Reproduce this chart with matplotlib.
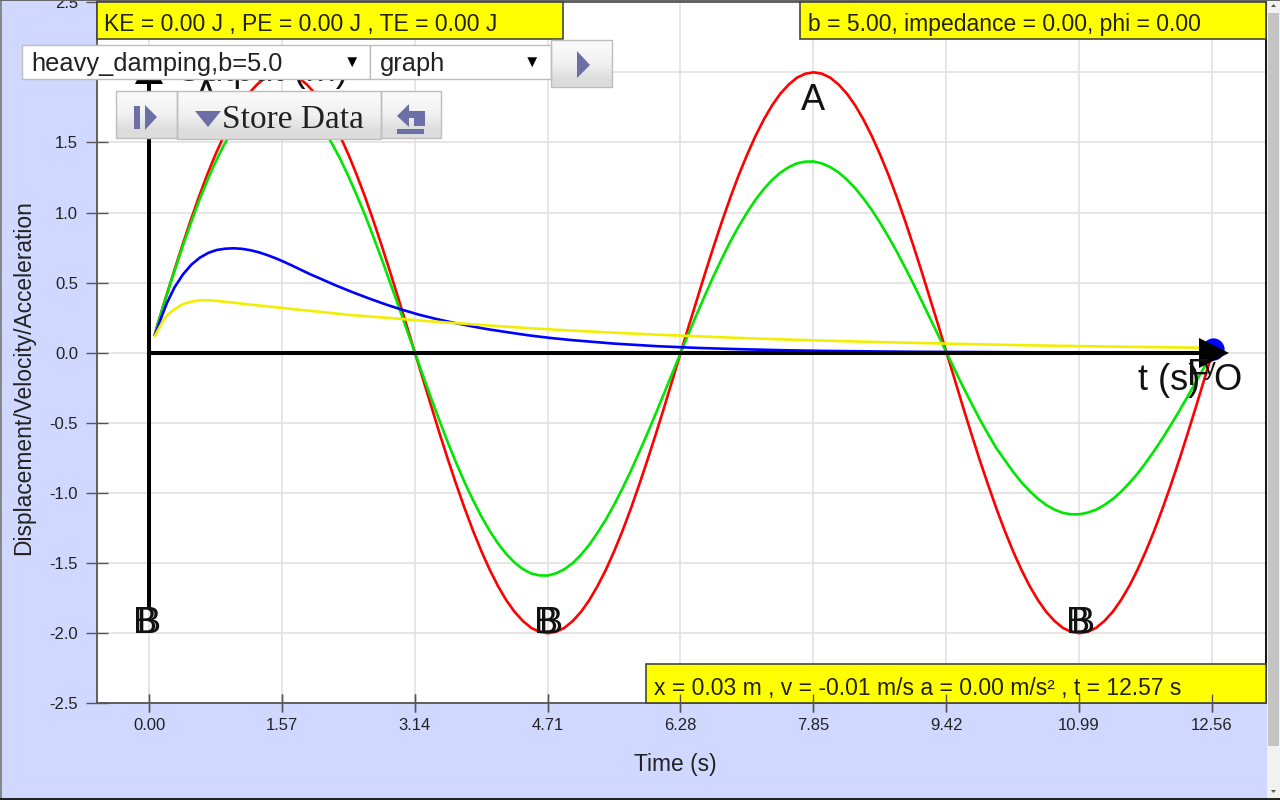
import matplotlib
matplotlib.use("Agg")
import matplotlib.pyplot as plt
import numpy as np
from matplotlib.patches import Polygon, Rectangle

plt.rcParams['font.family'] = ['Liberation Sans', 'DejaVu Sans']

# values
t = [0.07,
     0.098, 0.196, 0.295, 0.393, 0.491, 0.589, 0.687, 0.785, 0.884, 0.982, 1.080, 1.178, 1.276, 1.374, 1.473, 1.571,
     1.669, 1.767, 1.865, 1.963, 2.062, 2.160, 2.258, 2.356, 2.454, 2.553, 2.651, 2.749, 2.847, 2.945, 3.043, 3.142,
     3.240, 3.338, 3.436, 3.534, 3.632, 3.731, 3.829, 3.927, 4.025, 4.123, 4.221, 4.320, 4.418, 4.516, 4.614, 4.712,
     4.810, 4.909, 5.007, 5.105, 5.203, 5.301, 5.400, 5.498, 5.596, 5.694, 5.792, 5.890, 5.989, 6.087, 6.185, 6.283,
     6.381, 6.480, 6.578, 6.676, 6.774, 6.872, 6.970, 7.069, 7.167, 7.265, 7.363, 7.461, 7.560, 7.658, 7.756, 7.854,
     7.952, 8.050, 8.149, 8.247, 8.345, 8.443, 8.541, 8.639, 8.738, 8.836, 8.934, 9.032, 9.130, 9.228, 9.327, 9.425,
     9.523, 9.621, 9.719, 9.817, 9.916, 10.014, 10.112, 10.210, 10.308, 10.406, 10.505, 10.603, 10.701, 10.799, 10.897, 10.996,
     11.094, 11.192, 11.290, 11.388, 11.486, 11.585, 11.683, 11.781, 11.879, 11.977, 12.076, 12.174, 12.272, 12.370, 12.468, 12.566]
red = [0.13,
       0.196, 0.390, 0.580, 0.765, 0.942, 1.111, 1.269, 1.414, 1.546, 1.663, 1.764, 1.848, 1.913, 1.962, 1.990, 2.000,
       1.990, 1.962, 1.913, 1.848, 1.764, 1.663, 1.546, 1.414, 1.269, 1.111, 0.942, 0.765, 0.580, 0.390, 0.196, 0.000,
       -0.196, -0.390, -0.580, -0.765, -0.942, -1.111, -1.269, -1.414, -1.546, -1.663, -1.764, -1.848, -1.913, -1.962, -1.990, -2.000,
       -1.990, -1.962, -1.913, -1.848, -1.764, -1.663, -1.546, -1.414, -1.269, -1.111, -0.942, -0.765, -0.580, -0.390, -0.196, 0.000,
       0.196, 0.390, 0.580, 0.765, 0.942, 1.111, 1.269, 1.414, 1.546, 1.663, 1.764, 1.848, 1.913, 1.962, 1.990, 2.000,
       1.990, 1.962, 1.913, 1.848, 1.764, 1.663, 1.546, 1.414, 1.269, 1.111, 0.942, 0.765, 0.580, 0.390, 0.196, 0.000,
       -0.196, -0.390, -0.580, -0.765, -0.942, -1.111, -1.269, -1.414, -1.546, -1.663, -1.764, -1.848, -1.913, -1.962, -1.990, -2.000,
       -1.990, -1.962, -1.913, -1.848, -1.764, -1.663, -1.546, -1.414, -1.269, -1.111, -0.942, -0.765, -0.580, -0.390, -0.196, 0.000]
green = [0.13,
         0.195, 0.386, 0.572, 0.751, 0.919, 1.080, 1.226, 1.360, 1.480, 1.583, 1.672, 1.744, 1.797, 1.833, 1.851, 1.851,
         1.833, 1.798, 1.746, 1.678, 1.594, 1.494, 1.384, 1.259, 1.124, 0.981, 0.827, 0.669, 0.504, 0.338, 0.169, 0.000,
         -0.167, -0.331, -0.490, -0.644, -0.788, -0.926, -1.051, -1.167, -1.269, -1.359, -1.435, -1.496, -1.543, -1.574, -1.588, -1.589,
         -1.573, -1.544, -1.500, -1.441, -1.369, -1.283, -1.188, -1.082, -0.966, -0.843, -0.710, -0.575, -0.433, -0.290, -0.145, 0.000,
         0.144, 0.285, 0.421, 0.553, 0.677, 0.796, 0.903, 1.002, 1.091, 1.167, 1.232, 1.284, 1.324, 1.351, 1.363, 1.364,
         1.350, 1.324, 1.286, 1.235, 1.174, 1.100, 1.019, 0.927, 0.827, 0.722, 0.609, 0.493, 0.371, 0.248, 0.124, 0.000,
         -0.123, -0.244, -0.360, -0.474, -0.580, -0.681, -0.765, -0.848, -0.922, -0.986, -1.041, -1.086, -1.119, -1.142, -1.152, -1.152,
         -1.140, -1.119, -1.086, -1.044, -0.992, -0.929, -0.861, -0.783, -0.699, -0.610, -0.514, -0.416, -0.313, -0.210, -0.105, 0.000]
t_blue = [0.07, 0.10, 0.15, 0.21, 0.30, 0.40, 0.50, 0.60, 0.70, 0.80, 0.90, 1.00, 1.10, 1.20, 1.30, 1.40,
          1.50, 1.60, 1.70, 1.80, 1.90, 2.00, 2.20, 2.40, 2.60, 2.80, 3.00, 3.20, 3.40, 3.60, 3.80, 4.00,
          4.25, 4.50, 4.75, 5.00, 5.50, 6.00, 6.50, 7.00, 7.50, 8.00, 9.00, 10.00, 11.00, 12.57]
blue = [0.127, 0.175, 0.26, 0.353, 0.465, 0.558, 0.628, 0.678, 0.712, 0.733, 0.742, 0.745, 0.741, 0.731, 0.716, 0.696,
        0.673, 0.647, 0.619, 0.59, 0.561, 0.535, 0.482, 0.433, 0.387, 0.344, 0.305, 0.27, 0.24, 0.214, 0.19, 0.168,
        0.145, 0.123, 0.105, 0.09, 0.065, 0.047, 0.034, 0.025, 0.018, 0.013, 0.007, 0.004, 0.002, 0.001]
t_yellow = [0.07, 0.10, 0.15, 0.21, 0.30, 0.40, 0.50, 0.60, 0.70, 0.80, 0.90, 1.0, 1.2, 1.4, 1.6, 1.8,
            2.0, 2.4, 2.8, 3.2, 3.6, 4.0, 4.5, 5.0, 5.5, 6.0, 6.5, 7.0, 7.5, 8.0, 8.5, 9.0,
            9.5, 10.0, 10.5, 11.0, 11.5, 12.0, 12.57]
yellow = [0.12, 0.155, 0.21, 0.265, 0.31, 0.347, 0.365, 0.373, 0.374, 0.37, 0.363, 0.357, 0.343, 0.331, 0.318, 0.305,
          0.293, 0.268, 0.25, 0.23, 0.212, 0.195, 0.175, 0.158, 0.143, 0.129, 0.117, 0.105, 0.095, 0.086, 0.078, 0.071,
          0.064, 0.058, 0.052, 0.047, 0.043, 0.039, 0.035]
xticks = [0, 1.57, 3.14, 4.71, 6.28, 7.85, 9.42, 10.99, 12.56]
xlabels = ['0.00', '1.57', '3.14', '4.71', '6.28', '7.85', '9.42', '10.99', '12.56']
yticks = [-2.5, -2, -1.5, -1, -0.5, 0, 0.5, 1, 1.5, 2, 2.5]
ylabels = ['-2.5', '-2.0', '-1.5', '-1.0', '-0.5', '0.0', '0.5', '1.0', '1.5', '2.0', '2.5']

W, H = 1280, 800
BG = '#d1d8ff'
ICON = '#6b6fa6'

# plot area in pixels
left, right, top, bottom = 97, 1266, 2.2, 703.3
xlim = (-0.615, 13.2)

fig = plt.figure(figsize=(W / 100, H / 100), dpi=100, facecolor=BG)
pos = [left / W, 1 - bottom / H, (right - left) / W, (bottom - top) / H]

ax = fig.add_axes(pos, zorder=1)
ax.set_xlim(xlim)
ax.set_ylim(-2.5, 2.5)
ax.set_xticks(xticks, xlabels)
ax.set_yticks(yticks, ylabels)
ax.grid(color='#e2e2e2', lw=1.2)
ax.set_axisbelow(True)
ax.tick_params(axis='x', direction='inout', length=13.5, width=1, color='#555555', labelsize=12, pad=4, labelcolor='#222222')
ax.tick_params(axis='y', direction='inout', length=15.5, width=1, color='#555555', labelsize=12, pad=6, labelcolor='#222222')
for name, spine in ax.spines.items():
    spine.set_color('#555555')
    spine.set_linewidth(1.3)
ax.spines['right'].set_color('black')

ax.plot(t, red, color='#ff0000', lw=1.9, zorder=3)
ax.plot(t, green, color='#00e600', lw=1.9, zorder=3.1)
ax.plot(t_blue, blue, color='#0000ff', lw=1.9, zorder=3.2)
ax.plot(t_yellow, yellow, color='#f2ee00', lw=1.9, zorder=3.3)

# ball at the end of the run, and the one left at the start
ax.plot([12.57], [0.03], 'o', color='#0000ff', ms=16, mew=0, zorder=3.4)
ax.plot([0.0], [0.02], 's', color='#0000ff', ms=3, mew=0, zorder=3.4)

# black axes with arrow heads
ax.plot([0, 12.56], [0, 0], color='black', lw=2.9, zorder=4)
ax.plot([0, 0], [-1.81, 2.0], color='black', lw=2.9, zorder=4)
ax.plot([12.58], [0.0], '>', color='black', ms=21, mew=0, zorder=4)
ax.plot([0.0], [2.02], '^', color='black', ms=20, mew=0, zorder=4)

# labels inside the plot
big = dict(fontsize=26, color='#111111', va='baseline', zorder=5)
ax.text(0.31, 1.94, 'Output (m)', ha='left', **big)
ax.text(0.67, 1.76, 'A', ha='center', **big)
ax.text(7.85, 1.73, 'A', ha='center', **big)
for bx in [-0.05, 0.0, 4.69, 4.75, 10.98, 11.04]:
    ax.text(bx, -2.0, 'B', ha='center', **big)
ax.text(11.69, -0.265, 't (s)', ha='left', **big)
ax.text(12.74, -0.265, 'O', ha='center', **big)
ax.text(12.40, -0.23, 'F', ha='center', **big)
ax.text(12.54, -0.16, 'y', ha='center', fontsize=17, color='#111111', va='baseline', zorder=5)

# widgets on top, positioned in pixels
ui = fig.add_axes([0, 0, 1, 1], zorder=2)
ui.set_xlim(0, W)
ui.set_ylim(H, 0)
ui.axis('off')


def box(x0, y0, x1, y1, face, edge, lw=1.0):
    ui.add_patch(Rectangle((x0, y0), x1 - x0, y1 - y0, facecolor=face, edgecolor=edge, lw=lw))


def button(x0, y0, x1, y1):
    ui.imshow([[0.97], [0.94], [0.86]], cmap='gray', vmin=0, vmax=1, aspect='auto',
              extent=(x0, x1, y1, y0), interpolation='bilinear')
    ui.add_patch(Rectangle((x0, y0), x1 - x0, y1 - y0, facecolor='none', edgecolor='#bdbdbd', lw=1))


def icon(points, color=ICON):
    ui.add_patch(Polygon(points, closed=True, facecolor=color, edgecolor='none'))


box(97, 2, 563, 39, '#ffff00', '#444444', 1.2)
box(800, 2, 1266, 39, '#ffff00', '#444444', 1.2)
box(646, 664, 1266, 703, '#ffff00', '#444444', 1.2)
ui.text(104, 24.5, 'KE = 0.00 J , PE = 0.00 J , TE = 0.00 J', fontsize=16.5, color='#222200', va='center')
ui.text(808, 24.5, 'b = 5.00, impedance = 0.00, phi = 0.00', fontsize=16.5, color='#222200', va='center')
ui.text(654, 688.5, 'x = 0.03 m , v = -0.01 m/s a = 0.00 m/s² , t = 12.57 s', fontsize=16.5, color='#222200', va='center')

box(22, 45, 370, 79, 'white', '#bdbdbd')
box(370, 45, 551, 79, 'white', '#bdbdbd')
ui.text(31, 63.5, 'heavy_damping,b=5.0', fontsize=18.3, color='#222222', va='center')
ui.text(380, 63.5, 'graph', fontsize=18.3, color='#222222', va='center')
ui.text(352, 62, '▼', fontsize=12, color='black', ha='center', va='center')
ui.text(532, 62, '▼', fontsize=12, color='black', ha='center', va='center')

button(551, 40, 612, 87)
icon([(577, 51), (590, 65), (577, 78)])

button(116, 91, 177, 138)
box(134, 106, 140, 129, ICON, 'none', 0)
icon([(145, 105), (157, 117), (145, 130)])

button(177, 91, 381, 139)
icon([(195, 111), (221, 111), (208, 127)])
ui.text(222, 120, 'Store Data', fontsize=24, family=['Liberation Serif'], color='#222222', va='center')

button(381, 91, 441, 138)
icon([(397, 116), (409, 104), (409, 111), (425, 111), (425, 126), (414, 126), (414, 118), (409, 118), (409, 127)])
box(397, 129, 424, 134, ICON, 'none', 0)

ui.text(24, 378, 'Displacement/Velocity/Acceleration', fontsize=16.4, color='#222222', rotation=90, ha='center', va='center')
ui.text(675, 764, 'Time (s)', fontsize=16.4, color='#222222', ha='center', va='center')

# browser scrollbar and window edges
box(1267, 0, 1280, 800, '#f1f1f1', 'none', 0)
box(1268, 13, 1279, 746, '#c4c4c4', 'none', 0)
icon([(1271, 7), (1276, 7), (1273.5, 4)], '#555555')
icon([(1271, 790), (1276, 790), (1273.5, 793)], '#555555')
box(0, 0, 2, 800, '#888888', 'none', 0)
box(0, 798, 1280, 800, '#222222', 'none', 0)
box(0, 0, 1280, 1, '#666666', 'none', 0)
ui.set_xlim(0, W)
ui.set_ylim(H, 0)

# x ticks also run over the yellow read-out box
ticks = fig.add_axes(pos, zorder=3)
ticks.patch.set_visible(False)
for spine in ticks.spines.values():
    spine.set_visible(False)
ticks.set_xlim(xlim)
ticks.set_xticks(xticks, [])
ticks.set_yticks([])
ticks.tick_params(axis='x', direction='inout', length=13.5, width=1, color='#555555')

fig.savefig('out.png', dpi=100, facecolor=BG)
